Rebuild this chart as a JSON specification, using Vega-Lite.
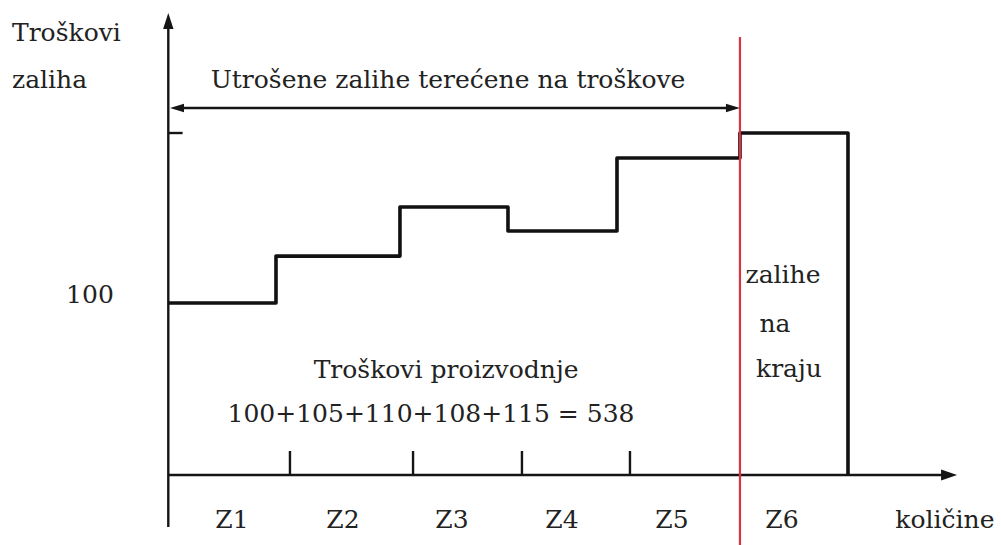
{
  "$schema": "https://vega.github.io/schema/vega-lite/v6.json",
  "width": 1001,
  "height": 545,
  "autosize": "none",
  "padding": 0,
  "background": "white",
  "config": {"view": {"stroke": null}},
  "datasets": {
    "axes": [
      {"x": 0, "x2": 0, "y": -30.2, "y2": 262},
      {"x": 0, "x2": 7.05, "y": 0, "y2": 0},
      {"x": 1.106, "x2": 1.106, "y": 0, "y2": 13.95},
      {"x": 2.225, "x2": 2.225, "y": 0, "y2": 13.95},
      {"x": 3.215, "x2": 3.215, "y": 0, "y2": 13.95},
      {"x": 4.197, "x2": 4.197, "y": 0, "y2": 13.95},
      {"x": 0, "x2": 0.13, "y": 198.86, "y2": 198.86},
      {"x": 0.08, "x2": 5.13, "y": 213.4, "y2": 213.4}
    ],
    "red": [
      {"x": 5.197, "x2": 5.197, "y": -40.7, "y2": 254.7}
    ],
    "steps": [
      {"o": 1, "x": 0, "y": 100},
      {"o": 2, "x": 0.979, "y": 100},
      {"o": 3, "x": 0.979, "y": 127.3},
      {"o": 4, "x": 2.106, "y": 127.3},
      {"o": 5, "x": 2.106, "y": 155.8},
      {"o": 6, "x": 3.088, "y": 155.8},
      {"o": 7, "x": 3.088, "y": 141.9},
      {"o": 8, "x": 4.079, "y": 141.9},
      {"o": 9, "x": 4.079, "y": 184.3},
      {"o": 10, "x": 5.197, "y": 184.3},
      {"o": 11, "x": 5.197, "y": 198.9},
      {"o": 12, "x": 6.179, "y": 198.9},
      {"o": 13, "x": 6.179, "y": 0}
    ],
    "headUp": [{"x": 0, "y": 264.0}],
    "headRight": [{"x": 7.098, "y": 0}],
    "headSmallLeft": [{"x": 0.079, "y": 213.4}],
    "headSmallRight": [{"x": 5.133, "y": 213.4}],
    "labelsLeft": [
      {"label": "Troškovi", "x": -1.421, "y": 252.35},
      {"label": "zaliha", "x": -1.421, "y": 225.0}
    ],
    "labelsCenter": [
      {"label": "Utrošene zalihe terećene na troškove", "x": 2.543, "y": 225.0},
      {"label": "100", "x": -0.712, "y": 100.0},
      {"label": "Troškovi proizvodnje", "x": 2.525, "y": 56.4},
      {"label": "100+105+110+108+115 = 538", "x": 2.388, "y": 30.8},
      {"label": "zalihe", "x": 5.588, "y": 111.6},
      {"label": "na", "x": 5.515, "y": 83.1},
      {"label": "kraju", "x": 5.642, "y": 57.0},
      {"label": "Z1", "x": 0.579, "y": -30.8},
      {"label": "Z2", "x": 1.588, "y": -30.8},
      {"label": "Z3", "x": 2.579, "y": -30.8},
      {"label": "Z4", "x": 3.579, "y": -30.8},
      {"label": "Z5", "x": 4.579, "y": -30.8},
      {"label": "Z6", "x": 5.579, "y": -30.8},
      {"label": "količine", "x": 7.06, "y": -30.8}
    ]
  },
  "encoding": {
    "x": {"field": "x", "type": "quantitative", "scale": {"domain": [-1.53, 7.57], "nice": false, "zero": false}, "axis": null},
    "y": {"field": "y", "type": "quantitative", "scale": {"domain": [-40.7, 276.2], "nice": false, "zero": false}, "axis": null}
  },
  "layer": [
    {
      "data": {"name": "axes"},
      "mark": {"type": "rule", "color": "#151515", "strokeWidth": 2.4},
      "encoding": {"x2": {"field": "x2"}, "y2": {"field": "y2"}}
    },
    {
      "data": {"name": "steps"},
      "mark": {"type": "line", "color": "#111111", "strokeWidth": 3.6, "strokeJoin": "round"},
      "encoding": {"order": {"field": "o", "type": "quantitative"}}
    },
    {
      "data": {"name": "red"},
      "mark": {"type": "rule", "color": "#dc3340", "strokeWidth": 2.2},
      "encoding": {"x2": {"field": "x2"}, "y2": {"field": "y2"}}
    },
    {
      "data": {"name": "headUp"},
      "mark": {"type": "point", "shape": "M-0.65,1L0,-1L0.65,1Z", "size": 256, "filled": true, "color": "#151515", "opacity": 1}
    },
    {
      "data": {"name": "headRight"},
      "mark": {"type": "point", "shape": "M-1,-0.69L1,0L-1,0.69Z", "size": 256, "filled": true, "color": "#151515", "opacity": 1}
    },
    {
      "data": {"name": "headSmallLeft"},
      "mark": {"type": "point", "shape": "M1,-0.6L-1,0L1,0.6Z", "size": 196, "filled": true, "color": "#151515", "opacity": 1}
    },
    {
      "data": {"name": "headSmallRight"},
      "mark": {"type": "point", "shape": "M-1,-0.6L1,0L-1,0.6Z", "size": 196, "filled": true, "color": "#151515", "opacity": 1}
    },
    {
      "data": {"name": "labelsLeft"},
      "mark": {"type": "text", "align": "left", "baseline": "alphabetic", "font": "DejaVu Serif", "fontSize": 25, "color": "#222222"},
      "encoding": {"text": {"field": "label"}}
    },
    {
      "data": {"name": "labelsCenter"},
      "mark": {"type": "text", "align": "center", "baseline": "alphabetic", "font": "DejaVu Serif", "fontSize": 25, "color": "#222222"},
      "encoding": {"text": {"field": "label"}}
    }
  ]
}
